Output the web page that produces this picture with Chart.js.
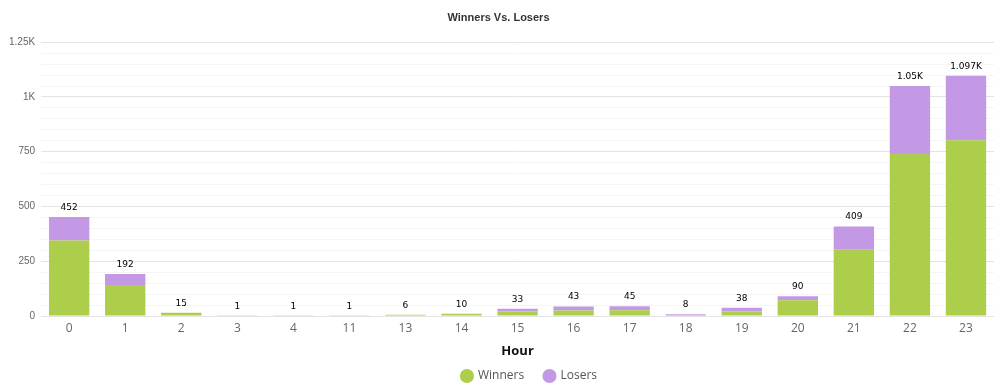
<!DOCTYPE html>
<html>
<head>
<meta charset="utf-8">
<script src="https://cdn.jsdelivr.net/npm/chart.js@4.4.1/dist/chart.umd.min.js"></script>
<style>
html,body{margin:0;padding:0;background:#fff;}
#wrap{width:1003px;height:392px;position:relative;}
</style>
</head>
<body>
<div id="wrap"><canvas id="c"></canvas></div>
<script>
const hours = ['0','1','2','3','4','11','13','14','15','16','17','18','19','20','21','22','23'];
const winners = [345, 142, 15, 1, 1, 1, 6, 10, 20, 25, 26, 0, 20, 72, 302, 740, 802];
const losers  = [107, 50, 0, 0, 0, 0, 0, 0, 13, 18, 19, 8, 18, 18, 107, 310, 295];
const totals  = [452, 192, 15, 1, 1, 1, 6, 10, 33, 43, 45, 8, 38, 90, 409, 1050, 1097];
const yMax = 1250;
const yStep = 50;
const yMajor = 250;

function fmtK(v){
  if (v >= 1000) return (Math.round(v/1000*1000)/1000) + 'K';
  return String(v);
}

const totalsPlugin = {
  id: 'totals',
  afterLayout(chart){
    if (chart.legend) { chart.legend.left += 31; chart.legend.right += 31; }
  },
  afterDatasetsDraw(chart){
    const ctx = chart.ctx;
    const xs = chart.scales.x, ys = chart.scales.y;
    ctx.save();
    ctx.font = '9px "DejaVu Sans", Verdana, sans-serif';
    ctx.fillStyle = '#000';
    ctx.textAlign = 'center';
    ctx.textBaseline = 'bottom';
    totals.forEach((t, i) => {
      const x = xs.getPixelForValue(i);
      const y = ys.getPixelForValue(t);
      ctx.fillText(fmtK(t), x, y - 5);
    });
    ctx.restore();
  }
};

new Chart(document.getElementById('c'), {
  type: 'bar',
  data: {
    labels: hours,
    datasets: [
      {label: 'Winners', data: winners, backgroundColor: '#adce4b', borderWidth: 0},
      {label: 'Losers', data: losers, backgroundColor: '#c398e5', borderWidth: 0}
    ]
  },
  options: {
    responsive: true,
    maintainAspectRatio: false,
    animation: false,
    layout: {padding: {left: 3, right: 9, top: 0, bottom: 0}},
    plugins: {
      title: {
        display: true, text: 'Winners Vs. Losers', color: '#333',
        font: {family: '"Liberation Sans", Arial, sans-serif', size: 11, weight: 'bold'},
        padding: {top: 11, bottom: 18}
      },
      legend: {
        position: 'bottom',
        labels: {
          usePointStyle: true, pointStyle: 'circle', boxWidth: 10, boxHeight: 10,
          color: '#555', padding: 11,
          font: {family: '"Open Sans", sans-serif', size: 12},
          generateLabels(chart){
            const items = Chart.defaults.plugins.legend.labels.generateLabels(chart);
            items.forEach((it, i) => { if (i === 0) it.text = it.text + '   '; });
            return items;
          }
        }
      },
      tooltip: {enabled: false}
    },
    scales: {
      x: {
        stacked: true,
        barPercentage: 0.73,
        categoryPercentage: 1.0,
        grid: {display: false},
        border: {display: false},
        ticks: {color: '#666', font: {family: '"Open Sans", sans-serif', size: 12}, padding: -3},
        title: {display: true, text: 'Hour', color: '#111',
          font: {family: '"Open Sans", sans-serif', size: 13, weight: 'bold'}, padding: {top: 11, bottom: 0}}
      },
      y: {
        stacked: true,
        min: 0, max: yMax,
        border: {display: false},
        grid: {
          color: (c) => (c.tick && c.tick.value % yMajor === 0) ? '#e4e4e4' : '#f5f5f5',
          drawTicks: false
        },
        ticks: {
          stepSize: yStep, autoSkip: false, padding: 6,
          color: '#666',
          font: {family: '"Liberation Sans", Arial, sans-serif', size: 10},
          callback: (v) => (v % yMajor === 0) ? fmtK(v) : ''
        }
      }
    }
  },
  plugins: [totalsPlugin]
});
</script>
</body>
</html>
